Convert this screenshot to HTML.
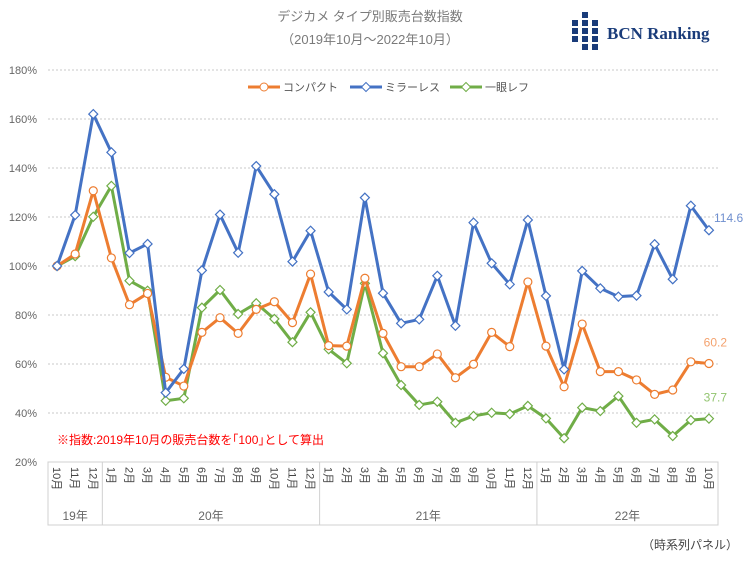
<!DOCTYPE html>
<html><head><meta charset="utf-8"><style>
body{margin:0;background:#fff;}
svg{display:block;font-family:"Liberation Sans","Noto Sans CJK JP",sans-serif;}
</style></head><body>
<svg id="chart" width="750" height="561" viewBox="0 0 750 561">
<text x="370" y="21" text-anchor="middle" font-size="13" fill="#7a7a7a">デジカメ タイプ別販売台数指数</text>
<text x="370" y="44" text-anchor="middle" font-size="13" fill="#7a7a7a">（2019年10月～2022年10月）</text>
<g fill="#1a3c7a">
<rect x="572" y="20" width="6" height="6"/><rect x="572" y="28" width="6" height="6"/><rect x="572" y="36" width="6" height="6"/>
<rect x="582" y="12" width="6" height="6"/><rect x="582" y="20" width="6" height="6"/><rect x="582" y="28" width="6" height="6"/><rect x="582" y="36" width="6" height="6"/><rect x="582" y="44" width="6" height="6"/>
<rect x="592" y="20" width="6" height="6"/><rect x="592" y="28" width="6" height="6"/><rect x="592" y="36" width="6" height="6"/><rect x="592" y="44" width="6" height="6"/>
<text x="607" y="39" font-family="Liberation Serif,serif" font-weight="bold" font-size="17" fill="#1a3c7a">BCN Ranking</text>
</g>
<g id="grid"></g>
<g id="legend"></g>
<g id="series"></g>
<text x="57" y="444" font-size="12" fill="#ff0000">※指数:2019年10月の販売台数を｢100｣として算出</text>
<g id="xaxis"></g>
<text x="738" y="549" text-anchor="end" font-size="12" fill="#444">（時系列パネル）</text>
</svg>
<script>
const months=["10月","11月","12月","1月","2月","3月","4月","5月","6月","7月","8月","9月","10月","11月","12月","1月","2月","3月","4月","5月","6月","7月","8月","9月","10月","11月","12月","1月","2月","3月","4月","5月","6月","7月","8月","9月","10月"];
const years=["19年","20年","21年","22年"];
const yearStart=[0,3,15,27];
const yTicks=[20,40,60,80,100,120,140,160,180];
const seriesNames=["コンパクト","ミラーレス","一眼レフ"];
const compact=[100,104.9,130.7,103.3,84.2,88.8,54.6,51.0,72.9,78.9,72.5,82.3,85.4,76.9,96.7,67.5,67.3,95,72.5,58.9,58.9,64.1,54.4,59.9,72.9,67.1,93.5,67.3,50.7,76.3,56.9,56.9,53.5,47.6,49.4,60.9,60.2];
const mirrorless=[100,120.8,162,146.4,105.3,109,48.3,58,98.2,121,105.4,140.8,129.3,101.8,114.4,89.4,82.3,127.9,88.9,76.6,78.2,96,75.6,117.7,101.1,92.5,118.8,87.8,57.8,98,90.9,87.5,87.9,108.9,94.6,124.6,114.6];
const slr=[100,104,120.1,132.7,94,89.9,45,46,83,90.2,80.4,84.8,78.4,68.9,81.1,66,60.3,92.9,64.4,51.4,43.3,44.6,36,38.8,40.1,39.6,42.9,37.8,29.7,42.2,40.8,46.9,36,37.4,30.6,37.1,37.7];
const NS="http://www.w3.org/2000/svg";
const X0=48,X1=718,Y0=462,Y1=70;
function y(v){return Y0-(v-20)/160*(Y0-Y1);}
function x(i){return X0+(X1-X0)/months.length*(i+0.5);}
function mk(tag,attrs,parent){const e=document.createElementNS(NS,tag);for(const k in attrs)e.setAttribute(k,attrs[k]);parent.appendChild(e);return e;}
const grid=document.getElementById('grid');
yTicks.forEach(t=>{
  if(t>20){const l=mk('line',{x1:X0,x2:X1,y1:y(t),y2:y(t),stroke:'#c8c8c8','stroke-dasharray':'2,2'},grid);
  
  }
  const tx=mk('text',{x:37,y:y(t)+4,'text-anchor':'end','font-size':11,fill:'#666'},grid);
  tx.textContent=t+'%';
  
  
});
const xa=document.getElementById('xaxis');
const ax=mk('rect',{x:X0,y:Y0,width:X1-X0,height:63,fill:'none',stroke:'#d0d0d0'},xa);


months.forEach((m,i)=>{
  const t=mk('text',{transform:`translate(${x(i)-4},${Y0+5}) rotate(90)`,'font-size':11,fill:'#444'},xa);
  t.textContent=m;
  
  
});
years.forEach((yr,k)=>{
  const s=yearStart[k],e=k<3?yearStart[k+1]:months.length;
  const xs=X0+(X1-X0)/months.length*s, xe=X0+(X1-X0)/months.length*e;
  if(k>0){const l=mk('line',{x1:xs,x2:xs,y1:Y0,y2:Y0+63,stroke:'#d0d0d0'},xa);
  
  }
  const t=mk('text',{x:(xs+xe)/2,y:520,'text-anchor':'middle','font-size':12,fill:'#666'},xa);
  t.textContent=yr;
  
  
});
const colors=['#ed7d31','#4472c4','#70ad47'];
const data=[compact,mirrorless,slr];
const order=[2,0,1];
const sg=document.getElementById('series');
order.forEach(k=>{
  const g=mk('g',{},sg);
  
  
  mk('polyline',{points:data[k].map((v,i)=>x(i)+','+y(v)).join(' '),fill:'none',stroke:colors[k],'stroke-width':3,'stroke-linejoin':'round'},g);
  data[k].forEach((v,i)=>{
    let p;
    if(k===0)p=mk('circle',{cx:x(i),cy:y(v),r:4,fill:'#fff',stroke:colors[k],'stroke-width':1.2},g);
    else p=mk('path',{d:`M${x(i)},${y(v)-4.5}l4.5,4.5l-4.5,4.5l-4.5,-4.5z`,fill:'#fff',stroke:colors[k],'stroke-width':1.2},g);
    
    
  });
  const last=data[k][data[k].length-1];
  const lab=mk('text',{x:k===1?714:727,y:k===1?y(last)-8:y(last)-17,'text-anchor':k===1?'start':'end','font-size':12,fill:['#f4a26e','#6f8fcf','#92c46f'][k]},g);
  lab.textContent=last.toFixed(1);
  
  
});
const lg=document.getElementById('legend');
const lx=[248,350,450];
seriesNames.forEach((n,k)=>{
  const g=mk('g',{},lg);
  
  
  mk('line',{x1:lx[k],x2:lx[k]+32,y1:87,y2:87,stroke:colors[k],'stroke-width':3},g);
  if(k===0)mk('circle',{cx:lx[k]+16,cy:87,r:4,fill:'#fff',stroke:colors[k]},g);
  else mk('path',{d:`M${lx[k]+16},82.5l4.5,4.5l-4.5,4.5l-4.5,-4.5z`,fill:'#fff',stroke:colors[k]},g);
  const t=mk('text',{x:lx[k]+35,y:91,'font-size':11,fill:'#555'},g);
  t.textContent=n;
});
</script>
</body></html>
